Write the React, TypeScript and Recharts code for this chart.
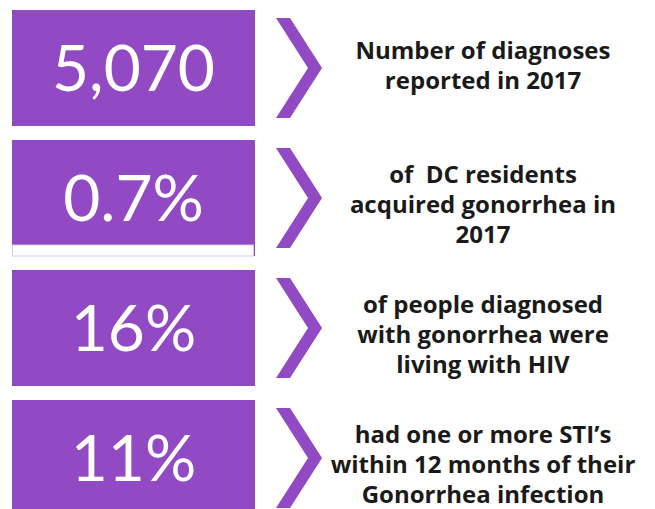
import React from 'react';
import { BarChart, Bar, XAxis, YAxis } from 'recharts';

const stats = ['5,070', '0.7%', '16%', '11%'];
const descriptions = [
  ['Number of diagnoses', 'reported in 2017'],
  ['of  DC residents', 'acquired gonorrhea in', '2017'],
  ['of people diagnosed', 'with gonorrhea were', 'living with HIV'],
  ['had one or more STI\u2019s', 'within 12 months of their', 'Gonorrhea infection'],
];
const panelSpan = [1, 1, 1, 1];

const rows = stats.map((s, i) => ({ stat: s, desc: descriptions[i], span: panelSpan[i] }));

const PURPLE = '#9149C4';

const Panel = (props: any) => {
  const { x, y, width, height, index, payload } = props;
  const cy = y + height / 2;
  const right = x + width;
  const cx = x + width / 2;
  const lines: string[] = payload.desc;
  const n = lines.length;
  const lh = 30;
  const b1 = cy - 3 - (n - 1) * 6;
  const tx = right + 228;
  const ch = 50;
  const chev = [
    [right + 21, cy - ch],
    [right + 35, cy - ch],
    [right + 67, cy],
    [right + 35, cy + ch],
    [right + 21, cy + ch],
    [right + 53, cy],
  ]
    .map((p) => p.join(','))
    .join(' ');
  return (
    <g>
      <rect x={x} y={y} width={width} height={height} fill={PURPLE} />
      {index === 1 && (
        <rect x={x + 0.5} y={y + height - 11} width={width - 2} height={11} fill="#ffffff" stroke="#dcc4ec" strokeWidth={1} />
      )}
      <text
        x={cx}
        y={cy + 23}
        textAnchor="middle"
        fill="#ffffff"
        fontFamily="Lato, 'Open Sans', sans-serif"
        fontSize={64}
      >
        {payload.stat}
      </text>
      <polygon points={chev} fill={PURPLE} />
      <text
        textAnchor="middle"
        fill="#1a1a1a"
        fontFamily="'Open Sans', Lato, sans-serif"
        fontWeight={700}
        fontSize={24}
        style={{ whiteSpace: 'pre' }}
      >
        {lines.map((l, i) => (
          <tspan key={i} x={tx} y={b1 + i * lh}>
            {l}
          </tspan>
        ))}
      </text>
    </g>
  );
};

export default function App() {
  return (
    <div style={{ position: 'absolute', left: 0, top: 0, width: 655, height: 509, overflow: 'hidden', background: '#ffffff' }}>
      <BarChart
        width={655}
        height={523}
        data={rows}
        layout="vertical"
        margin={{ top: 3, right: 400, bottom: 0, left: 12 }}
        barCategoryGap={0}
      >
        <XAxis type="number" domain={[0, 1]} hide />
        <YAxis type="category" dataKey="stat" hide />
        <Bar dataKey="span" barSize={116} isAnimationActive={false} shape={<Panel />} />
      </BarChart>
    </div>
  );
}
